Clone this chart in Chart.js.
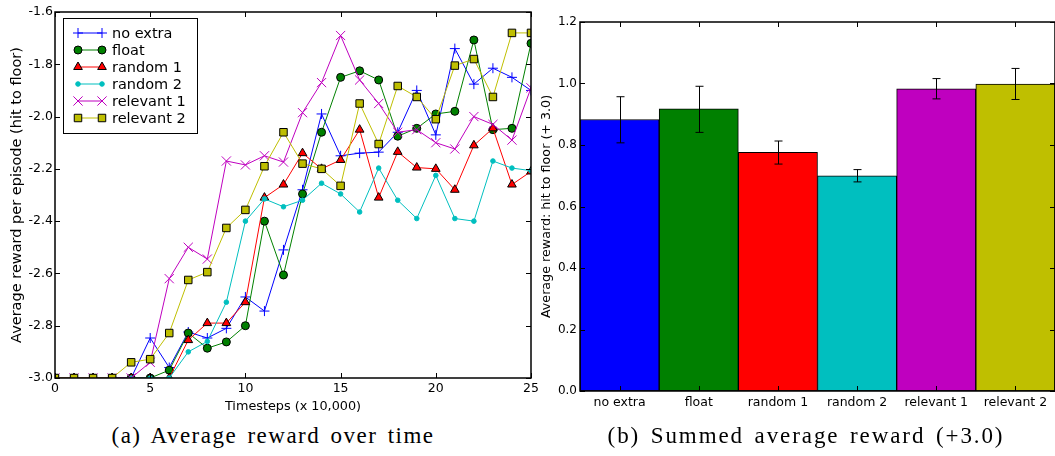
<!DOCTYPE html>
<html>
<head>
<meta charset="utf-8">
<script src="https://cdn.jsdelivr.net/npm/chart.js@4.4.1/dist/chart.umd.min.js"></script>
<style>
  html, body { margin: 0; padding: 0; background: #fff; width: 1055px; height: 456px; overflow: hidden; }
  canvas { display: block; }
  .cap { position: absolute; top: 423px; font-family: "Liberation Serif", "DejaVu Serif", serif; font-size: 23px; color: #000; white-space: nowrap; transform: translateX(-50%); word-spacing: 3px; }
</style>
</head>
<body>
<div style="position:absolute;left:0;top:0;width:545px;height:420px;"><canvas id="c1" width="545" height="420"></canvas></div>
<div style="position:absolute;left:530px;top:0;width:530px;height:420px;"><canvas id="c2" width="530" height="420"></canvas></div>
<div class="cap" id="capA" style="left:273px;letter-spacing:1.5px;">(a) Average reward over time</div>
<div class="cap" id="capB" style="left:806px;letter-spacing:1.9px;">(b) Summed average reward (+3.0)</div>
<script>
// ---------- data ----------
const timesteps = [0,1,2,3,4,5,6,7,8,9,10,11,12,13,14,15,16,17,18,19,20,21,22,23,24,25];
const seriesNames = ["no extra", "float", "random 1", "random 2", "relevant 1", "relevant 2"];
const noExtra   = [-3,-3,-3,-3,-3,-2.847,-2.96,-2.824,-2.847,-2.81,-2.69,-2.744,-2.51,-2.28,-1.99,-2.15,-2.14,-2.136,-2.06,-1.90,-2.07,-1.74,-1.876,-1.815,-1.85,-1.90];
const floatS    = [-3,-3,-3,-3,-3,-3,-2.97,-2.828,-2.886,-2.862,-2.80,-2.40,-2.606,-2.296,-2.06,-1.85,-1.825,-1.86,-2.075,-2.045,-1.99,-1.98,-1.707,-2.05,-2.045,-1.72];
const random1   = [-3,-3,-3,-3,-3,-3,-3,-2.855,-2.79,-2.79,-2.71,-2.31,-2.26,-2.14,-2.20,-2.166,-2.05,-2.31,-2.135,-2.195,-2.20,-2.28,-2.11,-2.045,-2.26,-2.21];
const random2   = [-3,-3,-3,-3,-3,-3,-3,-2.90,-2.86,-2.71,-2.40,-2.315,-2.345,-2.32,-2.255,-2.296,-2.365,-2.197,-2.32,-2.39,-2.225,-2.39,-2.40,-2.17,-2.197,-2.207];
const relevant1 = [-3,-3,-3,-3,-3,-2.94,-2.62,-2.50,-2.545,-2.17,-2.185,-2.15,-2.174,-1.985,-1.87,-1.69,-1.86,-1.95,-2.06,-2.05,-2.10,-2.124,-2.00,-2.03,-2.09,-1.89];
const relevant2 = [-3,-3,-3,-3,-2.94,-2.928,-2.828,-2.625,-2.595,-2.426,-2.357,-2.19,-2.06,-2.18,-2.20,-2.265,-1.95,-2.105,-1.883,-1.925,-2.01,-1.805,-1.78,-1.925,-1.68,-1.68];

const barCategories = ["no extra", "float", "random 1", "random 2", "relevant 1", "relevant 2"];
const barValues = [0.883, 0.918, 0.776, 0.700, 0.983, 0.998];
const barErrLow  = [0.807, 0.841, 0.738, 0.680, 0.950, 0.948];
const barErrHigh = [0.957, 0.991, 0.813, 0.720, 1.016, 1.049];

const leftYTicks = [-3.0,-2.8,-2.6,-2.4,-2.2,-2.0,-1.8,-1.6];
const leftXTicks = [0,5,10,15,20,25];
const rightYTicks = [0.0,0.2,0.4,0.6,0.8,1.0,1.2];

// ---------- styles ----------
const colors = ['#0000ff', '#008000', '#ff0000', '#00bfbf', '#bf00bf', '#bfbf00'];
const styles = [
  {pointStyle:'cross', radius:5, bg:'#0000ff', border:'#0000ff'},
  {pointStyle:'circle', radius:4, bg:'#008000', border:'#000'},
  {pointStyle:'triangle', radius:5, bg:'#ff0000', border:'#000'},
  {pointStyle:'circle', radius:2.3, bg:'#00bfbf', border:'#00bfbf'},
  {pointStyle:'crossRot', radius:6.5, bg:'#bf00bf', border:'#bf00bf'},
  {pointStyle:'rect', radius:5.3, bg:'#bfbf00', border:'#000'}
];
const allSeries = [noExtra, floatS, random1, random2, relevant1, relevant2];

const SANS = '"DejaVu Sans", sans-serif';

// inward ticks + full box
function boxTicksPlugin(tickLen) {
  return {
    id: 'boxTicks',
    afterDraw(chart) {
      const ctx = chart.ctx, a = chart.chartArea;
      ctx.save();
      ctx.strokeStyle = '#000';
      ctx.lineWidth = 1;
      const xs = chart.scales.x, ys = chart.scales.y;
      ctx.beginPath();
      xs.ticks.forEach((t, i) => {
        const px = Math.round(xs.getPixelForTick(i)) + 0.5;
        ctx.moveTo(px, a.bottom); ctx.lineTo(px, a.bottom - tickLen);
        ctx.moveTo(px, a.top); ctx.lineTo(px, a.top + tickLen);
      });
      ys.ticks.forEach((t, i) => {
        const py = Math.round(ys.getPixelForTick(i)) + 0.5;
        ctx.moveTo(a.left, py); ctx.lineTo(a.left + tickLen, py);
        ctx.moveTo(a.right, py); ctx.lineTo(a.right - tickLen, py);
      });
      ctx.stroke();
      ctx.lineWidth = 1.5;
      ctx.strokeRect(a.left, a.top, a.right - a.left, a.bottom - a.top);
      ctx.restore();
    }
  };
}

function drawMarker(ctx, st, x, y) {
  ctx.save();
  ctx.fillStyle = st.bg; ctx.strokeStyle = st.border; ctx.lineWidth = 1;
  const r = st.radius;
  ctx.beginPath();
  if (st.pointStyle === 'circle') {
    ctx.arc(x, y, r, 0, Math.PI * 2); ctx.fill(); ctx.stroke();
  } else if (st.pointStyle === 'rect') {
    const s = r * Math.SQRT1_2;
    ctx.rect(x - s, y - s, 2 * s, 2 * s); ctx.fill(); ctx.stroke();
  } else if (st.pointStyle === 'triangle') {
    ctx.moveTo(x, y - r);
    ctx.lineTo(x + Math.sin(2 * Math.PI / 3) * r, y - Math.cos(2 * Math.PI / 3) * r);
    ctx.lineTo(x + Math.sin(4 * Math.PI / 3) * r, y - Math.cos(4 * Math.PI / 3) * r);
    ctx.closePath(); ctx.fill(); ctx.stroke();
  } else if (st.pointStyle === 'cross') {
    ctx.moveTo(x - r, y); ctx.lineTo(x + r, y);
    ctx.moveTo(x, y - r); ctx.lineTo(x, y + r); ctx.stroke();
  } else if (st.pointStyle === 'crossRot') {
    const o = r * Math.SQRT1_2;
    ctx.moveTo(x - o, y - o); ctx.lineTo(x + o, y + o);
    ctx.moveTo(x + o, y - o); ctx.lineTo(x - o, y + o); ctx.stroke();
  }
  ctx.restore();
}

const legendPlugin = {
  id: 'mplLegend',
  afterDraw(chart) {
    const ctx = chart.ctx;
    const bx = 63, by = 18, bw = 134, bh = 115;
    ctx.save();
    ctx.fillStyle = '#fff';
    ctx.fillRect(bx, by, bw, bh);
    ctx.strokeStyle = '#000'; ctx.lineWidth = 1;
    ctx.strokeRect(bx + 0.5, by + 0.5, bw, bh);
    ctx.font = '14.5px ' + SANS;
    ctx.textBaseline = 'middle';
    seriesNames.forEach((name, i) => {
      const y = 33 + i * 17;
      ctx.strokeStyle = colors[i]; ctx.lineWidth = 1;
      ctx.beginPath(); ctx.moveTo(78, y); ctx.lineTo(102, y); ctx.stroke();
      drawMarker(ctx, styles[i], 78, y);
      drawMarker(ctx, styles[i], 102, y);
      ctx.fillStyle = '#000';
      ctx.fillText(name, 112, y + 1);
    });
    ctx.restore();
  }
};

// ---------- left chart ----------
const lineDatasets = allSeries.map((vals, i) => ({
  label: seriesNames[i],
  data: timesteps.map((t, j) => ({x: t, y: vals[j]})),
  borderColor: colors[i],
  backgroundColor: colors[i],
  borderWidth: 1,
  pointStyle: styles[i].pointStyle,
  pointRadius: styles[i].radius,
  pointBackgroundColor: styles[i].bg,
  pointBorderColor: styles[i].border,
  pointBorderWidth: 1,
  tension: 0,
  fill: false,
  order: 6 - i
}));

new Chart(document.getElementById('c1'), {
  type: 'line',
  data: { datasets: lineDatasets },
  options: {
    responsive: false, animation: false, devicePixelRatio: 1,
    layout: { padding: { top: 12, right: 14, left: 0, bottom: 0 } },
    plugins: { legend: { display: false }, tooltip: { enabled: false } },
    scales: {
      x: {
        type: 'linear', min: 0, max: 25,
        afterBuildTicks(s) { s.ticks = leftXTicks.map(v => ({value: v})); },
        afterFit(s) { s.height = 42; },
        grid: { display: false, drawTicks: false }, border: { display: false },
        ticks: { color: '#000', padding: 3, font: { family: SANS, size: 12.5 }, callback: v => String(v) },
        title: { display: true, text: 'Timesteps (x 10,000)', color: '#000', font: { family: SANS, size: 12.8 }, padding: { top: 0, bottom: 6 } }
      },
      y: {
        type: 'linear', min: -3.0, max: -1.6,
        afterBuildTicks(s) { s.ticks = leftYTicks.map(v => ({value: v})); },
        afterFit(s) { s.width = 55; },
        grid: { display: false, drawTicks: false }, border: { display: false },
        ticks: { color: '#000', padding: 2, font: { family: SANS, size: 12.5 }, callback: v => v.toFixed(1) },
        title: { display: true, text: 'Average reward per episode (hit to floor)', color: '#000', font: { family: SANS, size: 14.5 }, padding: { top: 9, bottom: 0 } }
      }
    }
  },
  plugins: [boxTicksPlugin(5), legendPlugin]
});

// ---------- right chart ----------
const errorBarPlugin = {
  id: 'errBars',
  afterDatasetsDraw(chart) {
    const ctx = chart.ctx, xs = chart.scales.x, ys = chart.scales.y;
    ctx.save();
    ctx.strokeStyle = '#000'; ctx.lineWidth = 1;
    barCategories.forEach((c, i) => {
      const x = Math.round(xs.getPixelForValue(i)) + 0.5;
      const yl = ys.getPixelForValue(barErrLow[i]);
      const yh = ys.getPixelForValue(barErrHigh[i]);
      ctx.beginPath();
      ctx.moveTo(x, yl); ctx.lineTo(x, yh);
      ctx.moveTo(x - 4, yl); ctx.lineTo(x + 4, yl);
      ctx.moveTo(x - 4, yh); ctx.lineTo(x + 4, yh);
      ctx.stroke();
    });
    ctx.restore();
  }
};

new Chart(document.getElementById('c2'), {
  type: 'bar',
  data: {
    labels: barCategories,
    datasets: [{
      data: barValues,
      backgroundColor: colors,
      borderColor: '#000',
      borderWidth: 1,
      borderSkipped: false,
      barPercentage: 1.0,
      categoryPercentage: 1.0
    }]
  },
  options: {
    responsive: false, animation: false, devicePixelRatio: 1,
    layout: { padding: { top: 22, right: 5, left: 0, bottom: 0 } },
    plugins: { legend: { display: false }, tooltip: { enabled: false } },
    scales: {
      x: {
        afterFit(s) { s.height = 29; },
        grid: { display: false, drawTicks: false }, border: { display: false },
        ticks: { color: '#000', padding: 4, font: { family: SANS, size: 12.5 }, maxRotation: 0, autoSkip: false }
      },
      y: {
        type: 'linear', min: 0, max: 1.2,
        afterBuildTicks(s) { s.ticks = rightYTicks.map(v => ({value: v})); },
        afterFit(s) { s.width = 50; },
        grid: { display: false, drawTicks: false }, border: { display: false },
        ticks: { color: '#000', padding: 3, font: { family: SANS, size: 12 }, callback: v => v.toFixed(1) },
        title: { display: true, text: 'Average reward: hit to floor (+ 3.0)', color: '#000', font: { family: SANS, size: 12.7 }, padding: { top: 9, bottom: 0 } }
      }
    }
  },
  plugins: [boxTicksPlugin(5), errorBarPlugin]
});
</script>
</body>
</html>
